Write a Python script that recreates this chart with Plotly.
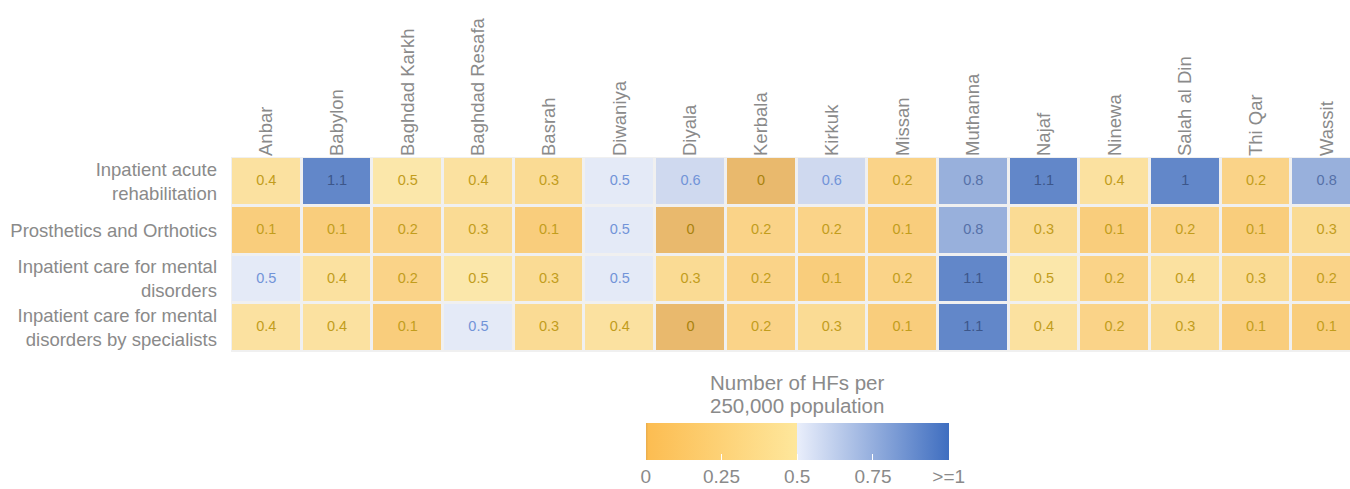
import plotly.graph_objects as go

# ---- data ----
districts = ["Anbar", "Babylon", "Baghdad Karkh", "Baghdad Resafa", "Basrah", "Diwaniya",
             "Diyala", "Kerbala", "Kirkuk", "Missan", "Muthanna", "Najaf", "Ninewa",
             "Salah al Din", "Thi Qar", "Wassit"]
services = ["Inpatient acute<br>rehabilitation",
            "Prosthetics and Orthotics",
            "Inpatient care for mental<br>disorders",
            "Inpatient care for mental<br>disorders by specialists"]

acute_rehab = [0.4, 1.1, 0.48, 0.4, 0.3, 0.52, 0.6, 0.0, 0.6, 0.2, 0.8, 1.1, 0.4, 1.0, 0.2, 0.8]
prosthetics = [0.1, 0.1, 0.2, 0.3, 0.1, 0.52, 0.0, 0.2, 0.2, 0.1, 0.8, 0.3, 0.1, 0.2, 0.1, 0.3]
mental = [0.52, 0.4, 0.2, 0.48, 0.3, 0.52, 0.3, 0.2, 0.1, 0.2, 1.1, 0.48, 0.2, 0.4, 0.3, 0.2]
mental_spec = [0.4, 0.4, 0.1, 0.52, 0.3, 0.4, 0.0, 0.2, 0.3, 0.1, 1.1, 0.4, 0.2, 0.3, 0.1, 0.1]

rows = [acute_rehab, prosthetics, mental, mental_spec]

cbar_tickvals = [0, 0.25, 0.5, 0.75, 1]
cbar_ticktext = ["0", "0.25", "0.5", "0.75", ">=1"]
cbar_title_lines = ["Number of HFs per", "250,000 population"]

# ---- styling ----
colorscale = [
    [0.0, "#e8ac4d"],
    [0.008, "#fcbd52"],
    [0.5, "#fee79c"],
    [0.5, "#e9eefb"],
    [1.0, "#3f6ec0"],
]
GRAY = "#8a8a8a"


def text_color(v):
    if v <= 0.001:
        return "#a8820f"
    if v < 0.5:
        return "#c29d1c"
    if v < 0.7:
        return "#7294d8"
    if v < 0.95:
        return "#5670a8"
    return "#3c568a"


def fmt(v):
    return f"{round(v, 1):g}"


W, H = 1350, 489
ML, MT, MB = 231, 157, 137
plot_h = H - MT - MB
plot_bottom = H - MB


def py(pix):
    """window pixel y -> paper y"""
    return (plot_bottom - pix) / plot_h


fig = go.Figure()
fig.add_trace(go.Heatmap(
    z=rows, x=districts, y=services,
    zmin=0, zmax=1, colorscale=colorscale,
    xgap=3, ygap=3, opacity=0.8,
    hoverinfo="skip",
    colorbar=dict(
        orientation="h",
        x=0.506, xanchor="center",
        y=py(423), yanchor="top", ypad=0, xpad=0,
        lenmode="pixels", len=303,
        thickness=37,
        outlinewidth=0,
        tickmode="array", tickvals=cbar_tickvals, ticktext=cbar_ticktext,
        ticks="inside", tickcolor="white", ticklen=6, tickwidth=1,
        tickfont=dict(size=19, color=GRAY),
    ),
))

tx, ty, tt, tc = [], [], [], []
for r, vals in zip(services, rows):
    for d, v in zip(districts, vals):
        tx.append(d)
        ty.append(r)
        tt.append(fmt(v))
        tc.append(text_color(v))

fig.add_trace(go.Scatter(
    x=tx, y=ty, text=tt, mode="text",
    textfont=dict(size=14.5, color=tc, family="Liberation Sans"),
    hoverinfo="skip", showlegend=False, cliponaxis=True,
))

for line, top in zip(cbar_title_lines, [369, 392]):
    fig.add_annotation(
        text=line, xref="paper", yref="paper",
        x=0.506, xanchor="center",
        y=py(top), yanchor="top",
        showarrow=False, align="center",
        font=dict(size=20.5, color=GRAY, family="Liberation Sans"),
    )

fig.update_layout(
    width=W, height=H,
    margin=dict(l=ML, r=0, t=MT, b=MB, autoexpand=False),
    paper_bgcolor="white",
    plot_bgcolor="#f0f0f0",
    font=dict(family="Liberation Sans", color=GRAY),
    xaxis=dict(side="top", tickangle=-90, range=[-0.5, 15.33],
               showgrid=False, zeroline=False, ticks="", automargin=False,
               tickfont=dict(size=18.5, color=GRAY)),
    yaxis=dict(autorange="reversed", showgrid=False, zeroline=False, ticks="",
               ticklabelstandoff=13, automargin=False,
               tickfont=dict(size=18.5, color=GRAY)),
    showlegend=False,
)

fig.write_html("out.html", config={"displayModeBar": False},
               post_script="document.body.style.margin='0';")
